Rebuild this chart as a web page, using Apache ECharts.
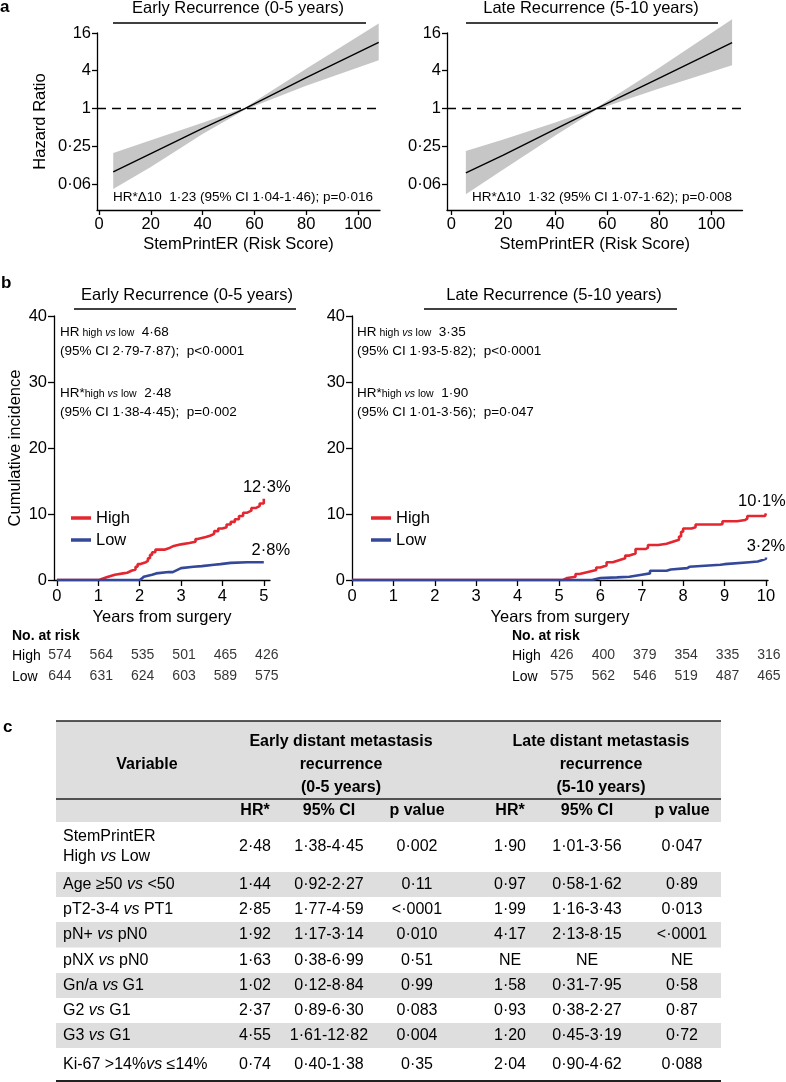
<!DOCTYPE html>
<html><head><meta charset="utf-8">
<script src="https://cdn.jsdelivr.net/npm/echarts@6/dist/echarts.min.js"></script>
<style>html,body{margin:0;padding:0;background:#fff}#c{width:786px;height:1082px}</style>
</head><body><div id="c"></div>
<script>
// ---------------- Panel a : hazard ratio vs StemPrintER score ----------------
const scoreTicks = [0, 20, 40, 60, 80, 100];
const hrTickVals = [0.0625, 0.25, 1, 4, 16];
const hrTickLabels = ['0·06', '0·25', '1', '4', '16'];
const earlyScore = [5.5, 20, 40, 56.5, 80, 108];
const earlyHR    = [0.097, 0.19, 0.48, 1.0, 3.1, 11.3];
const earlyUpper = [0.195, 0.31, 0.59, 1.04, 4.3, 22.6];
const earlyLower = [0.052, 0.117, 0.39, 0.96, 2.3, 5.9];
const lateScore  = [5.6, 20, 40, 56, 80, 108];
const lateHR     = [0.094, 0.18, 0.47, 1.0, 3.05, 11.2];
const lateUpper  = [0.21, 0.32, 0.6, 1.04, 4.47, 26.4];
const lateLower  = [0.043, 0.106, 0.37, 0.96, 2.08, 4.9];
const refLineEarly = [[-0.77, 1], [112.3, 1]];
const refLineLate  = [[-1.65, 1], [111.5, 1]];
const annotA = ['HR*Δ10  1·23 (95% CI 1·04-1·46); p=0·016', 'HR*Δ10  1·32 (95% CI 1·07-1·62); p=0·008'];

// ---------------- Panel b : cumulative incidence ----------------
const earlyYears = [0, 1, 2, 3, 4, 5];
const lateYears = [0, 1, 2, 3, 4, 5, 6, 7, 8, 9, 10];
const incTicks = [0, 10, 20, 30, 40];
const kmEarlyHigh = [[0,0],[1.02,0.2],[1.1,0.4],[1.2,0.6],[1.3,0.8],[1.4,1.0],[1.6,1.1],[1.7,1.4],[1.8,1.6],[1.9,2.0],[1.95,2.4],[2.0,2.7],[2.15,2.9],[2.2,3.3],[2.25,3.8],[2.3,4.2],[2.38,4.6],[2.6,4.8],[2.7,5.1],[2.8,5.4],[3.0,5.6],[3.2,5.8],[3.35,6.2],[3.4,6.5],[3.6,6.7],[3.7,7.0],[3.8,7.4],[3.9,7.8],[4.0,8.0],[4.1,8.4],[4.2,8.8],[4.3,9.2],[4.4,9.7],[4.5,10.2],[4.6,10.5],[4.7,10.9],[4.8,11.2],[4.9,11.6],[5.0,12.3]];
const kmEarlyLow  = [[0,0],[2.0,0.2],[2.05,0.5],[2.1,0.8],[2.3,1.0],[2.4,1.2],[2.7,1.2],[2.8,1.5],[2.9,1.8],[3.0,2.0],[3.3,2.1],[3.5,2.3],[3.8,2.4],[3.95,2.6],[4.2,2.7],[4.6,2.7],[5.0,2.8]];
const kmLateHigh  = [[0,0],[5.1,0.3],[5.2,0.5],[5.4,0.9],[5.5,1.2],[5.7,1.5],[5.9,1.9],[6.0,2.2],[6.15,2.7],[6.3,3.0],[6.45,3.3],[6.6,3.7],[6.7,4.0],[6.85,4.7],[7.1,4.9],[7.15,5.3],[7.4,5.5],[7.6,5.8],[7.75,6.1],[7.9,6.6],[7.95,7.3],[8.0,7.8],[8.2,8.0],[8.3,8.4],[8.9,8.5],[8.95,8.9],[9.3,9.1],[9.5,9.3],[9.55,9.7],[9.98,9.8],[10.0,10.1]];
const kmLateLow   = [[0,0],[5.8,0.3],[6.0,0.4],[6.4,0.5],[6.7,0.8],[7.0,1.0],[7.2,1.4],[7.6,1.6],[7.7,1.8],[8.1,2.0],[8.15,2.3],[8.9,2.4],[9.0,2.7],[9.6,2.8],[9.8,3.0],[9.9,3.2],[10.0,3.4]];
const endPct = ['12·3%', '2·8%', '10·1%', '3·2%'];
const riskTimesEarly = [0, 1, 2, 3, 4, 5];
const riskHighEarly = [574, 564, 535, 501, 465, 426];
const riskLowEarly  = [644, 631, 624, 603, 589, 575];
const riskTimesLate = [5, 6, 7, 8, 9, 10];
const riskHighLate  = [426, 400, 379, 354, 335, 316];
const riskLowLate   = [575, 562, 546, 519, 487, 465];
const hrTextEarly = [['HR', ' high ', 'vs', ' low', '  4·68'], '(95% CI 2·79-7·87);  p<0·0001', ['HR*', 'high ', 'vs', ' low', '  2·48'], '(95% CI 1·38-4·45);  p=0·002'];
const hrTextLate  = [['HR', ' high ', 'vs', ' low', '  3·35'], '(95% CI 1·93-5·82);  p<0·0001', ['HR*', 'high ', 'vs', ' low', '  1·90'], '(95% CI 1·01-3·56);  p=0·047'];

// ---------------- Panel c : table ----------------
const tblVariables = ['StemPrintER\nHigh vs Low', 'Age ≥50 vs <50', 'pT2-3-4 vs PT1', 'pN+ vs pN0', 'pNX vs pN0', 'Gn/a vs G1', 'G2 vs G1', 'G3 vs G1', 'Ki-67 >14%vs ≤14%'];
const tblEarlyHR = ['2·48','1·44','2·85','1·92','1·63','1·02','2·37','4·55','0·74'];
const tblEarlyCI = ['1·38-4·45','0·92-2·27','1·77-4·59','1·17-3·14','0·38-6·99','0·12-8·84','0·89-6·30','1·61-12·82','0·40-1·38'];
const tblEarlyP  = ['0·002','0·11','<·0001','0·010','0·51','0·99','0·083','0·004','0·35'];
const tblLateHR  = ['1·90','0·97','1·99','4·17','NE','1·58','0·93','1·20','2·04'];
const tblLateCI  = ['1·01-3·56','0·58-1·62','1·16-3·43','2·13-8·15','NE','0·31-7·95','0·38-2·27','0·45-3·19','0·90-4·62'];
const tblLateP   = ['0·047','0·89','0·013','<·0001','NE','0·58','0·87','0·72','0·088'];
const tblHead = ['Variable', 'Early distant metastasis\nrecurrence\n(0-5 years)', 'Late distant metastasis\nrecurrence\n(5-10 years)'];
const tblSubHead = ['HR*', '95% CI', 'p value', 'HR*', '95% CI', 'p value'];

// ======================================================================
const FF = '"Liberation Sans", Arial, Helvetica, sans-serif';
const L2 = v => Math.log2(v);
const BAND = '#c6c6c6';
const RED = '#e3262f', BLUE = '#34489a';
const FS = 16.5;
const AXL = {show: true, onZero: false, lineStyle: {color: '#000', width: 1.3}};

function hrYAxis(gi) {
  return {
    type: 'value', gridIndex: gi, min: -5.38, max: 4,
    axisLine: AXL,
    axisTick: {show: true, length: 5, lineStyle: {color: '#000', width: 1.3}, customValues: hrTickVals.map(L2)},
    axisLabel: {color: '#000', fontSize: FS, margin: 6, customValues: hrTickVals.map(L2),
      formatter: v => { const i = hrTickVals.findIndex(t => Math.abs(L2(t) - v) < 1e-6); return i >= 0 ? hrTickLabels[i] : ''; }},
    splitLine: {show: false},
    name: gi === 0 ? 'Hazard Ratio' : '', nameLocation: 'middle', nameGap: 48, nameRotate: 90,
    nameTextStyle: {color: '#000', fontSize: FS}
  };
}
function scoreXAxis(gi, min, max) {
  return {
    type: 'value', gridIndex: gi, min, max,
    axisLine: AXL,
    axisTick: {show: true, length: 5, lineStyle: {color: '#000', width: 1.3}, customValues: scoreTicks},
    axisLabel: {color: '#000', fontSize: FS, margin: 6, customValues: scoreTicks},
    splitLine: {show: false},
    name: 'StemPrintER (Risk Score)', nameLocation: 'middle', nameGap: 26,
    nameTextStyle: {color: '#000', fontSize: FS}
  };
}
function yearXAxis(gi, min, max, ticks) {
  return {
    type: 'value', gridIndex: gi, min, max,
    axisLine: AXL,
    axisTick: {show: true, length: 6, lineStyle: {color: '#000', width: 1.3}, customValues: ticks},
    axisLabel: {color: '#000', fontSize: FS, margin: 8, customValues: ticks},
    splitLine: {show: false},
    name: 'Years from surgery', nameLocation: 'middle', nameGap: 29,
    nameTextStyle: {color: '#000', fontSize: FS}
  };
}
function incYAxis(gi, named) {
  return {
    type: 'value', gridIndex: gi, min: 0, max: 40, interval: 10,
    axisLine: AXL,
    axisTick: {show: true, length: 6, lineStyle: {color: '#000', width: 1.3}, customValues: incTicks},
    axisLabel: {color: '#000', fontSize: FS, margin: 7, customValues: incTicks},
    splitLine: {show: false},
    name: named ? 'Cumulative incidence' : '', nameLocation: 'middle', nameGap: 30, nameRotate: 90,
    nameTextStyle: {color: '#000', fontSize: FS}
  };
}
function bandSeries(ai, xs, lower, upper, hr, ref) {
  return [
    {type: 'custom', xAxisIndex: ai, yAxisIndex: ai, clip: false, silent: true, z: 1,
      data: xs.map((x, i) => [x, L2(lower[i]), L2(upper[i])]),
      encode: {x: 0, y: [1, 2]},
      renderItem: (params, api) => {
        if (params.dataIndex !== 0) return null;
        const top = xs.map((x, i) => api.coord([x, L2(upper[i])]));
        const bot = xs.map((x, i) => api.coord([x, L2(lower[i])])).reverse();
        return {type: 'polygon', shape: {points: top.concat(bot)}, style: {fill: BAND}};
      }},
    {type: 'line', xAxisIndex: ai, yAxisIndex: ai, data: ref.map(p => [p[0], L2(p[1])]), symbol: 'none',
      lineStyle: {color: '#000', width: 1.3, type: [9, 6]}, clip: false, silent: true, z: 2},
    {type: 'line', xAxisIndex: ai, yAxisIndex: ai, data: xs.map((x, i) => [x, L2(hr[i])]), symbol: 'none',
      lineStyle: {color: '#000', width: 1.4}, clip: false, silent: true, z: 3}
  ];
}
function kmSeries(ai, name, color, pts, label, off) {
  return {type: 'line', name, xAxisIndex: ai, yAxisIndex: ai, step: 'end', symbol: 'none', color,
    lineStyle: {color, width: 2.6}, data: pts, z: 3, silent: true,
    markPoint: {symbol: 'circle', symbolSize: 0, silent: true,
      label: {show: true, position: 'top', distance: 3, offset: off, formatter: label, color: '#000', fontSize: FS, fontFamily: FF},
      data: [{coord: pts[pts.length - 1]}]}};
}
function riskSeries(ai, times, vals, row) {
  return {type: 'scatter', xAxisIndex: ai, yAxisIndex: ai, symbolSize: 0, silent: true,
    data: times.map((t, i) => [t, row, vals[i]]),
    label: {show: true, position: 'inside', offset: [3, 0], formatter: p => String(p.value[2]), color: '#000', fontSize: 14, fontFamily: FF}};
}

// ----- graphic (titles, annotations, table) -----
const G = [];
function txt(x, y, text, o) {
  o = o || {};
  const al = o.align || 'left', va = o.va || 'middle';
  const style = {x, y, text, fill: '#000', fontFamily: FF, fontSize: o.size || FS, fontWeight: o.weight || 'normal',
    align: al, textAlign: al, verticalAlign: va, textVerticalAlign: va};
  if (o.rich) style.rich = o.rich;
  if (o.lineHeight) style.lineHeight = o.lineHeight;
  G.push({type: 'text', z: 20, style});
}
function hline(x1, x2, y, w, c) {
  G.push({type: 'line', z: 15, shape: {x1, y1: y, x2, y2: y}, style: {stroke: c || '#000', lineWidth: w || 1.3}});
}
function rect(x, y, w, h, c) {
  G.push({type: 'rect', z: 5, shape: {x, y, width: w, height: h}, style: {fill: c}});
}

// panel labels
txt(0, 7, 'a', {weight: 'bold', size: 17});
txt(1, 283, 'b', {weight: 'bold', size: 17});
txt(3, 727, 'c', {weight: 'bold', size: 17});
// panel a titles
txt(238, 8, 'Early Recurrence (0-5 years)', {align: 'center'});
hline(113, 366, 23, 1.5);
txt(591, 8, 'Late Recurrence (5-10 years)', {align: 'center'});
hline(466, 718, 23, 1.5);
txt(113, 197, annotA[0], {size: 13.5});
txt(472, 197, annotA[1], {size: 13.5});
// panel b titles
txt(187, 295, 'Early Recurrence (0-5 years)', {align: 'center'});
hline(74, 296, 309, 1.5);
txt(554, 295, 'Late Recurrence (5-10 years)', {align: 'center'});
hline(424, 677, 309, 1.5);
const hrRich = {
  b: {fontSize: 13.5, fontFamily: FF, color: '#000', verticalAlign: 'bottom'},
  s: {fontSize: 10.5, fontFamily: FF, color: '#000', verticalAlign: 'bottom'},
  si: {fontSize: 10.5, fontFamily: FF, color: '#000', fontStyle: 'italic', verticalAlign: 'bottom'}
};
function hrBlock(x, lines) {
  const ys = [332, 351, 393, 412];
  lines.forEach((ln, i) => {
    if (Array.isArray(ln)) {
      txt(x, ys[i], `{b|${ln[0]}}{s|${ln[1]}}{si|${ln[2]}}{s|${ln[3]}}{b|${ln[4]}}`, {size: 13.5, rich: hrRich});
    } else {
      txt(x, ys[i], ln, {size: 13.5});
    }
  });
}
hrBlock(60, hrTextEarly);
hrBlock(357, hrTextLate);
// number at risk labels
txt(12, 636, 'No. at risk', {weight: 'bold', size: 14});
txt(12, 656, 'High', {size: 14});
txt(12, 677, 'Low', {size: 14});
txt(512, 636, 'No. at risk', {weight: 'bold', size: 14});
txt(512, 656, 'High', {size: 14});
txt(512, 677, 'Low', {size: 14});

// ----- table -----
const TL = 56, TR = 721;
const colX = [255, 329, 417, 510, 587, 682];
const rowB = [822, 872, 897, 922, 947.5, 973, 998, 1023, 1048, 1081];
const TGRAY = '#dedede';
rect(TL, 721, TR - TL, 101, TGRAY);
hline(TL, TR, 721, 1.6, '#222');
hline(TL, TR, 799, 1.5, '#222');
hline(TL, TR, 1081, 2, '#222');
txt(147, 765, tblHead[0], {align: 'center', weight: 'bold', size: 16});
txt(341, 765, tblHead[1], {align: 'center', weight: 'bold', size: 16, lineHeight: 23});
txt(601, 765, tblHead[2], {align: 'center', weight: 'bold', size: 16, lineHeight: 23});
tblSubHead.forEach((t, i) => txt(colX[i], 811, t, {align: 'center', weight: 'bold', size: 16}));
const tRich = {
  n: {fontSize: 16, fontFamily: FF, color: '#000', lineHeight: 20},
  i: {fontSize: 16, fontFamily: FF, color: '#000', fontStyle: 'italic', lineHeight: 20}
};
tblVariables.forEach((v, r) => {
  const top = rowB[r], bot = rowB[r + 1], cy = (top + bot) / 2;
  if (r % 2 === 1) rect(TL, top, TR - TL, bot - top, TGRAY);
  const rich = v.split('\n').map(line => '{n|' + line.replace('vs', '}{i|vs}{n|') + '}').join('\n');
  txt(63, cy, rich, {size: 16, rich: tRich});
  const vals = [tblEarlyHR[r], tblEarlyCI[r], tblEarlyP[r], tblLateHR[r], tblLateCI[r], tblLateP[r]];
  vals.forEach((t, c) => txt(colX[c], cy, t, {align: 'center', size: 16}));
});

const option = {
  animation: false,
  backgroundColor: '#fff',
  textStyle: {fontFamily: FF, color: '#000'},
  grid: [
    {left: 97, top: 33, width: 283, height: 177, outerBoundsMode: 'none'},
    {left: 447, top: 33, width: 295.5, height: 177, outerBoundsMode: 'none'},
    {left: 54, top: 316, width: 216, height: 264, outerBoundsMode: 'none'},
    {left: 352, top: 316, width: 416, height: 264, outerBoundsMode: 'none'},
    {left: 54, top: 645, width: 216, height: 42, outerBoundsMode: 'none'},
    {left: 352, top: 645, width: 416, height: 42, outerBoundsMode: 'none'}
  ],
  xAxis: [
    scoreXAxis(0, -0.77, 108.5),
    scoreXAxis(1, -1.65, 112),
    yearXAxis(2, -0.07, 5.15, earlyYears),
    yearXAxis(3, 0, 10.05, lateYears),
    {type: 'value', gridIndex: 4, min: -0.07, max: 5.15, show: false},
    {type: 'value', gridIndex: 5, min: 0, max: 10.05, show: false}
  ],
  yAxis: [
    hrYAxis(0), hrYAxis(1),
    incYAxis(2, true), incYAxis(3, false),
    {type: 'category', gridIndex: 4, data: ['High', 'Low'], inverse: true, show: false},
    {type: 'category', gridIndex: 5, data: ['High', 'Low'], inverse: true, show: false}
  ],
  legend: [
    {left: 66, top: 503, orient: 'vertical', icon: 'rect', itemWidth: 20, itemHeight: 3.5, itemGap: 2, selectedMode: false,
      data: ['High', 'Low'], textStyle: {fontSize: FS, color: '#000', lineHeight: 20, fontFamily: FF}},
    {left: 366, top: 503, orient: 'vertical', icon: 'rect', itemWidth: 20, itemHeight: 3.5, itemGap: 2, selectedMode: false,
      data: ['High', 'Low'], textStyle: {fontSize: FS, color: '#000', lineHeight: 20, fontFamily: FF}}
  ],
  series: [
    ...bandSeries(0, earlyScore, earlyLower, earlyUpper, earlyHR, refLineEarly),
    ...bandSeries(1, lateScore, lateLower, lateUpper, lateHR, refLineLate),
    kmSeries(2, 'High', RED, kmEarlyHigh, endPct[0], [3, 0]),
    kmSeries(2, 'Low', BLUE, kmEarlyLow, endPct[1], [7, 0]),
    kmSeries(3, 'High', RED, kmLateHigh, endPct[2], [-4, 0]),
    kmSeries(3, 'Low', BLUE, kmLateLow, endPct[3], [0, 0]),
    riskSeries(4, riskTimesEarly, riskHighEarly, 'High'),
    riskSeries(4, riskTimesEarly, riskLowEarly, 'Low'),
    riskSeries(5, riskTimesLate, riskHighLate, 'High'),
    riskSeries(5, riskTimesLate, riskLowLate, 'Low')
  ],
  graphic: {elements: G}
};
const chart = echarts.init(document.getElementById('c'), null, {renderer: 'canvas'});
chart.setOption(option);
</script>
</body></html>
